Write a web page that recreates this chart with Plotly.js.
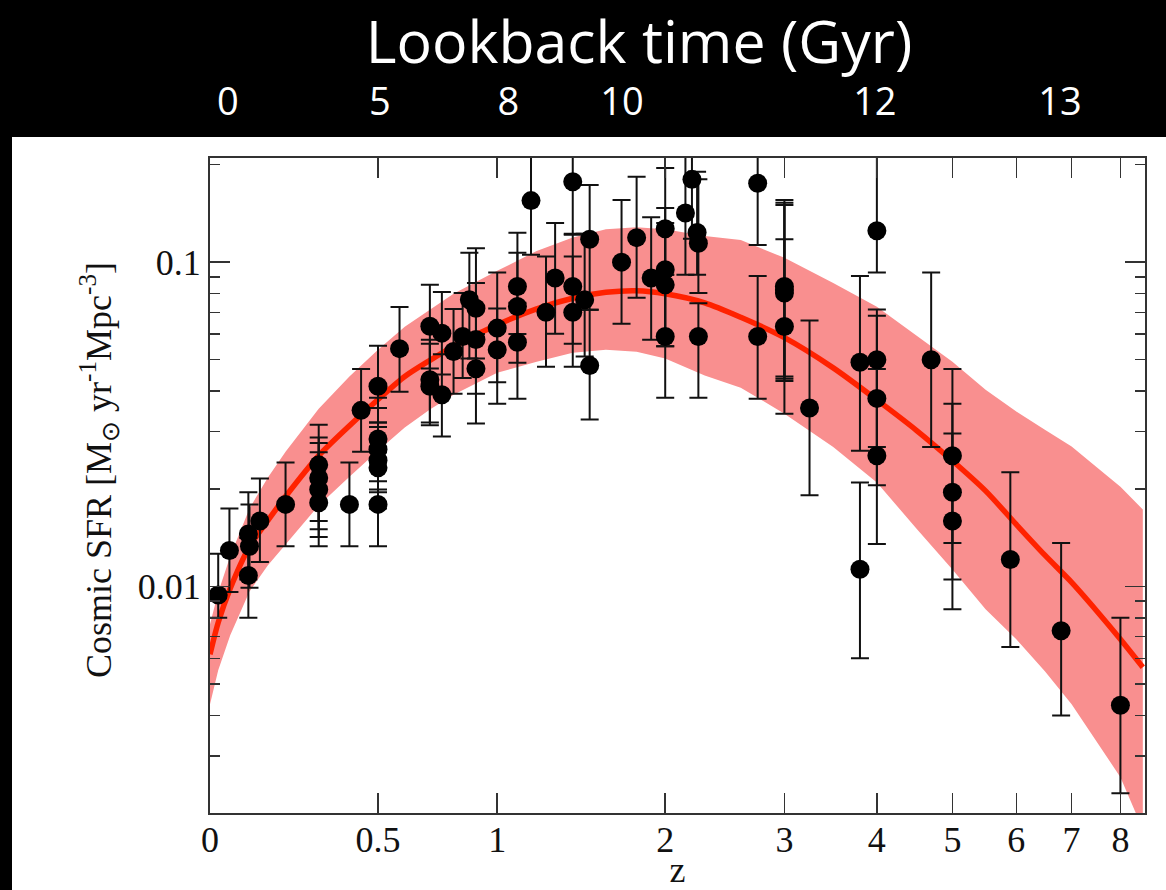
<!DOCTYPE html>
<html>
<head>
<meta charset="utf-8">
<script src="https://cdn.plot.ly/plotly-3.0.1.min.js"></script>
<style>html,body{margin:0;padding:0;background:#fff;}#chart{width:1166px;height:890px;}</style>
</head>
<body>
<div id="chart"></div>
<script>
// ---- Observational data points (redshift, SFR density, upper and lower error limits)
const obsZ = [0.02,0.048,0.097,0.100,0.097,0.128,0.20,0.30,0.30,0.30,0.30,0.40,0.44,0.50,0.50,0.50,0.50,0.50,0.50,0.58,
  0.70,0.70,0.70,0.75,0.75,0.80,0.84,0.87,0.90,0.90,0.90,1.00,1.00,1.10,1.10,1.10,1.17,1.25,1.30,1.40,
  1.40,1.40,1.47,1.50,1.50,1.70,1.80,1.90,2.00,2.00,2.00,2.00,2.15,2.20,2.24,2.25,2.25,2.75,2.75,3.00,
  3.00,3.00,3.00,3.25,3.80,3.80,4.00,4.00,4.00,4.00,4.70,5.00,5.00,5.00,5.90,6.80,8.00];
const obsSFR = [0.0094,0.0129,0.0145,0.0133,0.0108,0.0159,0.0179,0.0237,0.0216,0.0199,0.0181,0.0179,0.0349,0.0414,0.0285,0.0265,0.0245,0.0232,0.0179,0.0541,
  0.0634,0.0434,0.0414,0.0604,0.0390,0.0530,0.0590,0.0766,0.0721,0.0577,0.0469,0.0626,0.0537,0.0841,0.0730,0.0566,0.1548,0.0700,0.0893,0.1770,
  0.0841,0.0700,0.0765,0.1177,0.0480,0.1000,0.1190,0.0893,0.1267,0.0947,0.0851,0.0590,0.1418,0.1800,0.1234,0.1144,0.0590,0.1751,0.0590,0.0841,
  0.0820,0.0803,0.0633,0.0355,0.0491,0.0113,0.1250,0.0500,0.0380,0.0253,0.0500,0.0253,0.0195,0.0159,0.0121,0.0073,0.0043];
const obsHi = [0.0126,0.0174,0.0195,0.0179,0.0141,0.0215,0.0241,0.0315,0.0288,0.0277,0.0259,0.0241,0.0468,0.0552,0.0382,0.0355,0.0320,0.0310,0.0259,0.0727,
  0.0851,0.0576,0.0560,0.0809,0.0520,0.0717,0.0803,0.1068,0.1104,0.0862,0.0600,0.0929,0.0720,0.1231,0.1068,0.0750,0.25,0.1040,0.1321,0.25,
  0.1223,0.1040,0.1223,0.1730,0.0713,0.1555,0.1835,0.1376,0.1950,0.1470,0.1321,0.0914,0.25,0.25,0.1900,0.1800,0.0747,0.25,0.0907,0.1555,
  0.1525,0.1500,0.1177,0.0661,0.0907,0.0209,0.25,0.0714,0.0683,0.0468,0.0929,0.0468,0.0366,0.0296,0.0225,0.0136,0.0080];
const obsLo = [0.0080,0.0096,0.0105,0.0099,0.0080,0.0119,0.0133,0.0159,0.0150,0.0142,0.0133,0.0133,0.0260,0.0320,0.0211,0.0199,0.0195,0.0174,0.0133,0.0398,
  0.0470,0.0320,0.0314,0.0450,0.0290,0.0393,0.0439,0.0504,0.0504,0.0393,0.0318,0.0426,0.0366,0.0600,0.0489,0.0379,0.1053,0.0476,0.0601,0.1214,
  0.0560,0.0476,0.0512,0.0713,0.0327,0.0646,0.0776,0.0576,0.0914,0.0550,0.0550,0.0382,0.0914,0.1180,0.0914,0.0803,0.0382,0.1130,0.0379,0.0444,
  0.0437,0.0430,0.0341,0.0191,0.0262,0.0060,0.0929,0.0269,0.0205,0.0135,0.0269,0.0136,0.0105,0.0085,0.0065,0.0040,0.0023];

// ---- Model curve and its uncertainty band
const modelZ = [0,0.02,0.05,0.1,0.15,0.2,0.3,0.4,0.5,0.6,0.7,0.8,1.0,1.2,1.4,1.6,1.8,2.0,2.3,2.6,3.0,3.5,4.0,4.5,5.0,5.5,6.0,6.5,7.0,7.5,8.0,8.5];
const modelSFR = [0.00617,0.00774,0.00986,0.01327,0.01597,0.01893,0.0253,0.0313,0.0377,0.0444,0.0498,0.0550,0.0641,0.0718,0.0774,0.0807,0.0816,0.0799,0.0749,0.0676,0.0585,0.0472,0.0376,0.0303,0.0244,0.0197,0.01552,0.01248,0.01029,0.00840,0.00687,0.00563];
const bandUpper = [0.00764,0.00958,0.01238,0.0174,0.02166,0.0260,0.0353,0.0444,0.0537,0.0632,0.0713,0.0799,0.0940,0.1083,0.1192,0.1262,0.1282,0.1262,0.1205,0.1171,0.1031,0.0863,0.0729,0.0593,0.0493,0.0404,0.0346,0.0304,0.0270,0.0233,0.0203,0.01726];
const bandLower = [0.00433,0.00551,0.00707,0.00965,0.01161,0.01347,0.01777,0.0218,0.0262,0.0309,0.0351,0.0390,0.0456,0.0493,0.0525,0.0537,0.0529,0.0504,0.0447,0.0410,0.0341,0.0269,0.0209,0.01509,0.01128,0.0085,0.00687,0.00547,0.00433,0.00333,0.00258,0.00178];

// ---- Tick labels
const zTickVals = [0,0.5,1,2,3,4,5,6,7,8];
const zTickText = ['0','0.5','1','2','3','4','5','6','7','8'];
const sfrTickVals = [0.01,0.1];
const sfrTickText = ['0.01','0.1'];
const sfrMinorVals = [0.003,0.004,0.005,0.006,0.007,0.008,0.009,0.02,0.03,0.04,0.05,0.06,0.07,0.08,0.09,0.2];
const lookbackZ = [0.044,0.507,1.054,1.703,3.976,6.78];
const lookbackLabels = ['0','5','8','10','12','13'];

const onePlus = a => a.map(v => 1 + v);

const band = {
  x: onePlus(modelZ).concat(onePlus(modelZ).slice().reverse()),
  y: bandUpper.concat(bandLower.slice().reverse()),
  type: 'scatter', mode: 'lines', fill: 'toself',
  fillcolor: '#F98F8F', line: {width: 0, color: '#F98F8F'},
  hoverinfo: 'skip', showlegend: false
};
const model = {
  x: onePlus(modelZ), y: modelSFR, type: 'scatter', mode: 'lines',
  line: {color: '#FF2200', width: 5.5, shape: 'spline', smoothing: 0.8},
  showlegend: false
};
const obs = {
  x: onePlus(obsZ), y: obsSFR, type: 'scatter', mode: 'markers',
  marker: {color: '#000', size: 19},
  error_y: {type: 'data', symmetric: false,
    array: obsHi.map((v, i) => v - obsSFR[i]),
    arrayminus: obsSFR.map((v, i) => v - obsLo[i]),
    color: '#111', thickness: 2, width: 9},
  showlegend: false
};
const topAxisHolder = {
  x: onePlus(lookbackZ), y: lookbackZ.map(() => null), xaxis: 'x2', yaxis: 'y',
  type: 'scatter', mode: 'markers', marker: {opacity: 0}, hoverinfo: 'skip', showlegend: false
};

const serif = 'Liberation Serif, Times New Roman, serif';
const W = 1166, H = 890, L = 210, R = 21, T = 158, B = 77;
const pw = W - L - R, ph = H - T - B;
const px = x => (x - L) / pw;
const py = y => (H - B - y) / ph;

const layout = {
  width: W, height: H,
  margin: {l: L, r: R, t: T, b: B},
  paper_bgcolor: '#fff', plot_bgcolor: '#fff',
  showlegend: false,
  title: {text: 'Lookback time (Gyr)', font: {family: 'Open Sans', size: 59, color: '#fff'},
          x: 639 / W, xanchor: 'center', xref: 'container', y: 1 - 42 / H, yanchor: 'middle', yref: 'container'},
  xaxis: {
    type: 'log', range: [0, Math.log10(9.55)],
    tickmode: 'array', tickvals: onePlus(zTickVals), ticktext: zTickText,
    ticks: 'inside', ticklen: 20, tickwidth: 1.5, tickcolor: '#333',
    showline: true, linecolor: '#333', linewidth: 2, mirror: 'ticks',
    showgrid: false, zeroline: false, ticklabelstandoff: -6,
    tickfont: {family: serif, size: 36, color: '#111'},
    title: {text: 'z', font: {family: serif, size: 36, color: '#111'}, standoff: 0}
  },
  xaxis2: {
    type: 'log', range: [0, Math.log10(9.55)], overlaying: 'x', side: 'top', anchor: 'y',
    tickmode: 'array', tickvals: onePlus(lookbackZ), ticktext: lookbackLabels,
    ticks: '', showline: false, showgrid: false, zeroline: false,
    ticklabelstandoff: 34,
    tickfont: {family: 'Open Sans', size: 38, color: '#fff'}
  },
  yaxis: {
    type: 'log', range: [Math.log10(0.002), Math.log10(0.2095)],
    tickmode: 'array', tickvals: sfrTickVals, ticktext: sfrTickText,
    ticks: 'inside', ticklen: 20, tickwidth: 1.5, tickcolor: '#333',
    minor: {tickmode: 'array', tickvals: sfrMinorVals, ticks: 'inside', ticklen: 10, tickwidth: 1.5, tickcolor: '#333', showgrid: false},
    showline: true, linecolor: '#333', linewidth: 2, mirror: 'ticks',
    showgrid: false, zeroline: false,
    tickfont: {family: serif, size: 36, color: '#111'}
  },
  annotations: [
    {text: 'Cosmic SFR [M<sub>\u2299</sub> yr<sup>-1</sup>Mpc<sup>-3</sup>]', textangle: -90,
     xref: 'paper', yref: 'paper', x: px(99), y: py(470), xanchor: 'center', yanchor: 'middle',
     showarrow: false, font: {family: serif, size: 36, color: '#111'}}
  ],
  shapes: [
    {type: 'rect', xref: 'paper', yref: 'paper', layer: 'below', x0: px(0), x1: px(W), y0: py(137), y1: py(0),
     fillcolor: '#000', line: {width: 0}},
    {type: 'rect', xref: 'paper', yref: 'paper', layer: 'below', x0: px(0), x1: px(12), y0: py(H), y1: py(137),
     fillcolor: '#000', line: {width: 0}}
  ]
};

Plotly.newPlot('chart', [band, model, obs, topAxisHolder], layout, {displayModeBar: false, staticPlot: true});
</script>
</body>
</html>
